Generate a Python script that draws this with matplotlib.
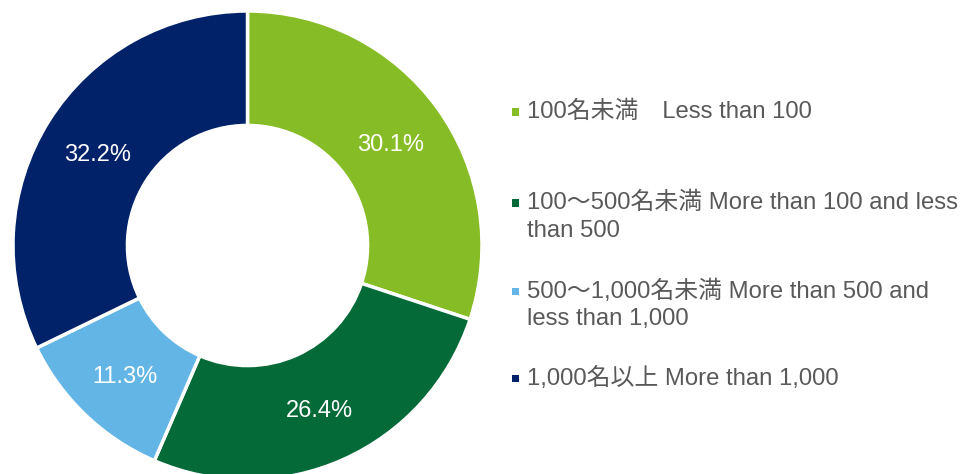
import matplotlib.pyplot as plt

plt.rcParams['font.family'] = ['Liberation Sans', 'Noto Sans CJK JP']

labels = ['100名未満\u3000Less than 100',
          '100～500名未満 More than 100 and less\nthan 500',
          '500～1,000名未満 More than 500 and\nless than 1,000',
          '1,000名以上 More than 1,000']
values = [30.1, 26.4, 11.3, 32.2]
colors = ['#86BC25', '#046A38', '#62B5E5', '#012169']

W, H = 965, 474
fig = plt.figure(figsize=(W / 100, H / 100), dpi=100)

# donut axes: centre at (247.5, 245.5) px, radius 234.5 px
cx, cy, r = 247.5, 245.5, 234.5
ax = fig.add_axes([(cx - r) / W, (H - cy - r) / H, 2 * r / W, 2 * r / H])
wedges, _, autotexts = ax.pie(values, colors=colors, startangle=90, counterclock=False,
                              autopct='%.1f%%', pctdistance=0.755,
                              wedgeprops=dict(width=0.488, edgecolor='white', linewidth=2.5),
                              textprops=dict(color='white', fontsize=17))
# labels sit a few pixels lower in the original
for t in autotexts:
    x, y = t.get_position()
    t.set_position((x, y - 0.015))
ax.set_xlim(-1, 1)
ax.set_ylim(-1, 1)
ax.set_aspect('equal')
ax.axis('off')

# legend drawn by hand so the square sits on the first line
first_line_y = [112, 203, 291, 378]
for lab, col, y in zip(labels, colors, first_line_y):
    for i, line in enumerate(lab.split('\n')):
        fig.text(527 / W, 1 - (y + 28 * i) / H, line, fontsize=17.2, color='#595959',
                 va='center', ha='left')
    fig.patches.append(plt.Rectangle((512 / W, 1 - (y + 3.5) / H), 7 / W, 7 / H,
                                     transform=fig.transFigure, facecolor=col,
                                     edgecolor='none'))

fig.savefig('out.png', dpi=100)
